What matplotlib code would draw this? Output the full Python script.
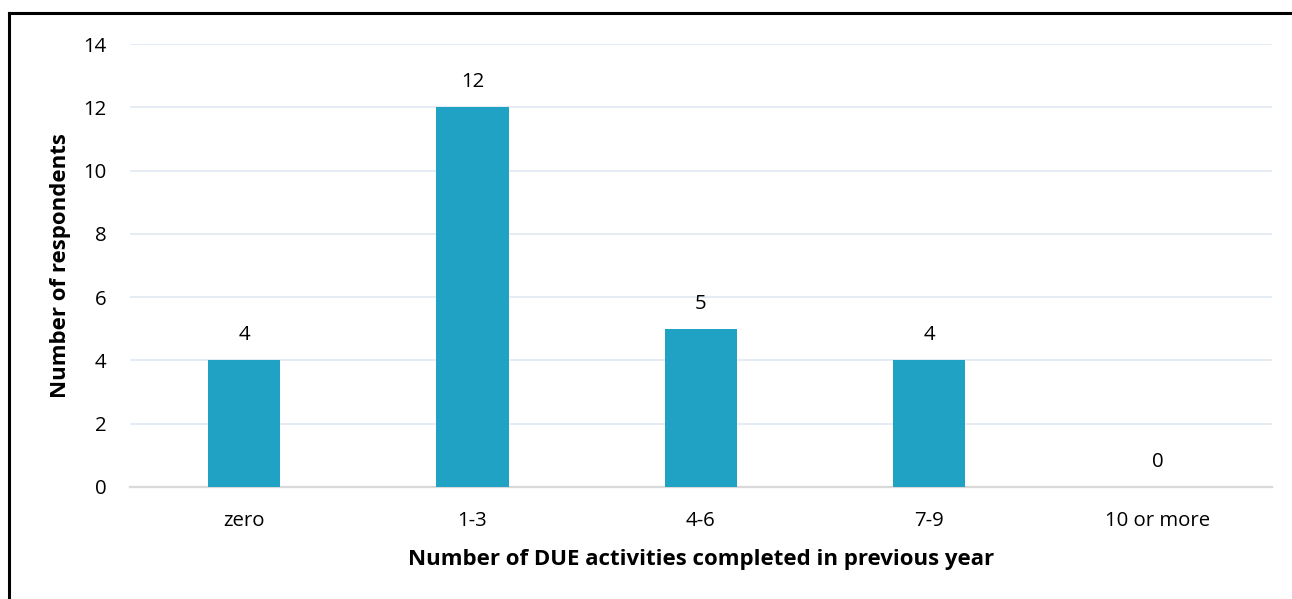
import matplotlib.pyplot as plt
from matplotlib.lines import Line2D

categories = ["zero", "1-3", "4-6", "7-9", "10 or more"]
respondents = [4, 12, 5, 4, 0]
y_ticks = [0, 2, 4, 6, 8, 10, 12, 14]

plt.rcParams['font.family'] = ['Open Sans', 'DejaVu Sans']

fig = plt.figure(figsize=(12.92, 5.99), dpi=100)
ax = fig.add_axes([0.1006, 0.187, 0.8839, 0.7395])

bar_color = "#1FA2C3"
x = range(len(categories))
bars = ax.bar(x, respondents, width=0.316, color=bar_color, zorder=3)

# value labels above each bar
for xi, v in zip(x, respondents):
    ax.annotate(str(v), (xi, v), xytext=(0, 11), textcoords="offset points",
                ha="center", va="bottom", fontsize=14.7, color="#000000")

ax.set_xlim(-0.5, 4.5)
ax.set_ylim(0, 14)
ax.set_yticks(y_ticks)
ax.set_xticks(list(x))
ax.set_xticklabels(categories)
ax.tick_params(axis="both", length=0, labelsize=14.7, colors="#000000")
ax.tick_params(axis="y", pad=17)
ax.tick_params(axis="x", pad=17)

ax.grid(axis="y", color="#E4EAF3", linewidth=1.3, zorder=0)
for side in ["top", "right", "left"]:
    ax.spines[side].set_visible(False)
ax.spines["bottom"].set_color("#D9D9D9")
ax.spines["bottom"].set_linewidth(1.6)

ax.set_ylabel("Number of respondents", fontsize=16, fontweight="bold", labelpad=9)
ax.set_xlabel("Number of DUE activities completed in previous year", fontsize=16,
              fontweight="bold", labelpad=13)

# partial black frame round the chart (left and top edges visible)
fig.add_artist(Line2D([8.5 / 1292, 8.5 / 1292], [0, 1 - 12.5 / 599], color="black",
                      linewidth=2.2, transform=fig.transFigure))
fig.add_artist(Line2D([8.5 / 1292, 1], [1 - 12.5 / 599, 1 - 12.5 / 599], color="black",
                      linewidth=2.2, transform=fig.transFigure))

fig.savefig("out.png", dpi=100)
